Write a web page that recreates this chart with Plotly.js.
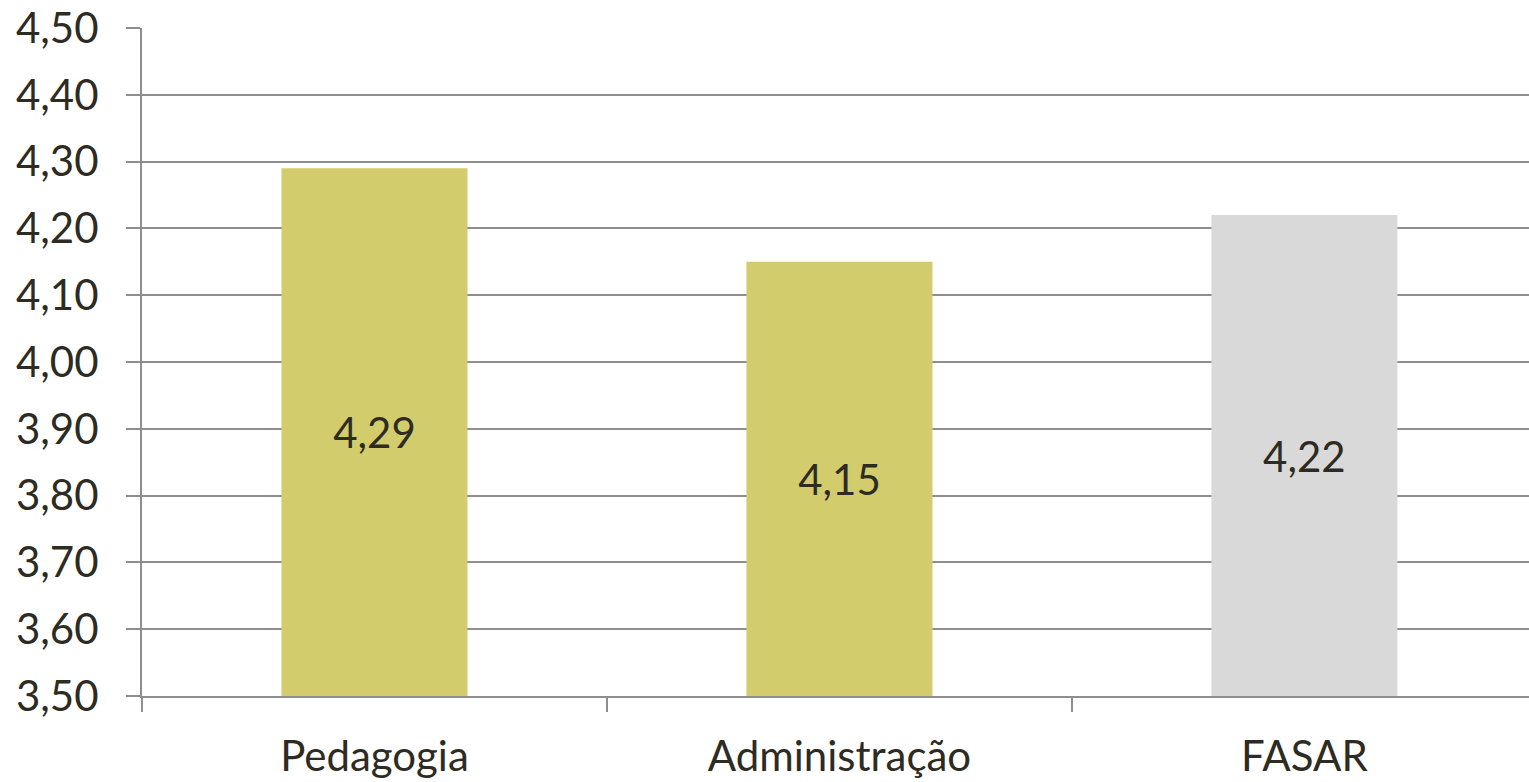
<!DOCTYPE html>
<html>
<head>
<meta charset="utf-8">
<script src="https://cdn.plot.ly/plotly-3.0.1.min.js"></script>
<style>html,body{margin:0;padding:0;background:#fff;}#chart{width:1529px;height:782px;}</style>
</head>
<body>
<div id="chart"></div>
<script>
const categories = ["Pedagogia", "Administração", "FASAR"];
const values = [4.29, 4.15, 4.22];
const barColors = ["#D2CC6C", "#D2CC6C", "#D9D9D9"];
const yTickVals = [3.5, 3.6, 3.7, 3.8, 3.9, 4.0, 4.1, 4.2, 4.3, 4.4, 4.5];
const axisMin = 3.5;

const font = {family: "Lato, 'Open Sans', sans-serif", size: 42, color: "#2E2B22"};
const gridColor = "#8E8E8E";

const trace = {
  type: "bar",
  x: categories,
  y: values.map(v => v - axisMin),
  base: axisMin,
  customdata: values,
  width: 0.4,
  marker: {color: barColors, line: {width: 0}},
  texttemplate: "%{customdata:.2f}",
  textposition: "inside",
  insidetextanchor: "middle",
  textangle: 0,
  insidetextfont: font,
  constraintext: "none",
  hoverinfo: "skip"
};

const layout = {
  width: 1529,
  height: 782,
  margin: {l: 142, r: 0, t: 28, b: 86, pad: 0},
  paper_bgcolor: "#ffffff",
  plot_bgcolor: "#ffffff",
  separators: ",.",
  showlegend: false,
  font: font,
  xaxis: {
    type: "category",
    range: [-0.5, 2.483],
    tickson: "boundaries",
    ticks: "outside",
    ticklen: 14,
    tickwidth: 2,
    tickcolor: gridColor,
    showgrid: false,
    showline: true,
    linecolor: gridColor,
    linewidth: 2,
    tickfont: font,
    ticklabelstandoff: 23,
    zeroline: false,
    fixedrange: true
  },
  yaxis: {
    range: [3.5, 4.5],
    tickvals: yTickVals,
    tickformat: ".2f",
    ticks: "outside",
    ticklen: 14,
    tickwidth: 2,
    tickcolor: gridColor,
    showgrid: true,
    gridcolor: gridColor,
    gridwidth: 2,
    showline: true,
    linecolor: gridColor,
    linewidth: 2,
    tickfont: font,
    ticklabelstandoff: 19,
    zeroline: false,
    fixedrange: true
  }
};

Plotly.newPlot("chart", [trace], layout, {displayModeBar: false, staticPlot: true});
</script>
</body>
</html>
